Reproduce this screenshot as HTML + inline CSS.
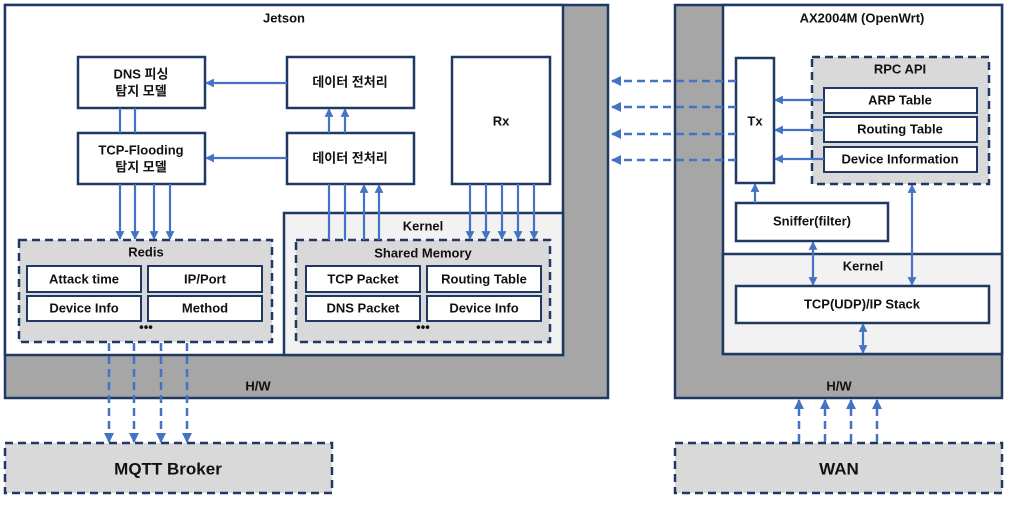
<!DOCTYPE html>
<html><head><meta charset="utf-8"><style>
html,body{margin:0;padding:0;background:#fff;width:1010px;height:505px;overflow:hidden}
text{font-family:"Liberation Sans","Noto Sans CJK KR",sans-serif;font-weight:bold;fill:#111;text-anchor:middle;dominant-baseline:middle}
</style></head><body>
<svg width="1010" height="505" viewBox="0 0 1010 505" xmlns="http://www.w3.org/2000/svg">
<defs>
<marker id="a" viewBox="0 0 10 10" refX="9" refY="5" markerWidth="4" markerHeight="4" orient="auto-start-reverse"><path d="M0,0L10,5L0,10z" fill="#4472c4"/></marker>
</defs>
<g stroke="#1f3864" stroke-width="2.5">
<!-- Jetson -->
<rect x="5" y="5" width="603" height="393" fill="#a6a6a6"/>
<rect x="5" y="5" width="558" height="350" fill="#fff"/>
<rect x="284" y="213" width="279" height="142" fill="#f2f2f2"/>
<!-- AX -->
<rect x="675" y="5" width="327" height="393" fill="#a6a6a6"/>
<rect x="723" y="5" width="279" height="349" fill="#fff"/>
<rect x="723" y="254" width="279" height="100" fill="#f2f2f2"/>
</g>
<g stroke="#1f3864" stroke-width="2.5" fill="#fff">
<rect x="78" y="57" width="127" height="51"/>
<rect x="78" y="133" width="127" height="51"/>
<rect x="287" y="57" width="127" height="51"/>
<rect x="287" y="133" width="127" height="51"/>
<rect x="452" y="57" width="98" height="127"/>
<rect x="736" y="58" width="38" height="125"/>
<rect x="736" y="203" width="152" height="38"/>
<rect x="736" y="286" width="253" height="37"/>
</g>
<g stroke="#1f3864" stroke-width="2.5" stroke-dasharray="8,5" fill="#d9d9d9">
<rect x="19" y="240" width="253" height="102"/>
<rect x="296" y="240" width="254" height="102"/>
<rect x="812" y="57" width="177" height="127"/>
<rect x="5" y="443" width="327" height="50"/>
<rect x="675" y="443" width="327" height="50"/>
</g>
<g stroke="#1f3864" stroke-width="2" fill="#fff">
<rect x="27" y="266" width="114" height="26"/>
<rect x="148" y="266" width="114" height="26"/>
<rect x="27" y="296" width="114" height="25"/>
<rect x="148" y="296" width="114" height="25"/>
<rect x="306" y="266" width="114" height="26"/>
<rect x="427" y="266" width="114" height="26"/>
<rect x="306" y="296" width="114" height="25"/>
<rect x="427" y="296" width="114" height="25"/>
<rect x="824" y="88" width="153" height="25"/>
<rect x="824" y="117" width="153" height="25"/>
<rect x="824" y="147" width="153" height="25"/>
</g>
<g stroke="#4472c4" stroke-width="2.2" fill="none">
<line x1="120" y1="108" x2="120" y2="133"/><line x1="135" y1="108" x2="135" y2="133"/>
<line x1="120" y1="184" x2="120" y2="239" marker-end="url(#a)"/>
<line x1="135" y1="184" x2="135" y2="239" marker-end="url(#a)"/>
<line x1="154" y1="184" x2="154" y2="239" marker-end="url(#a)"/>
<line x1="170" y1="184" x2="170" y2="239" marker-end="url(#a)"/>
<line x1="287" y1="83" x2="206" y2="83" marker-end="url(#a)"/>
<line x1="287" y1="158" x2="206" y2="158" marker-end="url(#a)"/>
<line x1="329" y1="133" x2="329" y2="109" marker-end="url(#a)"/>
<line x1="345" y1="133" x2="345" y2="109" marker-end="url(#a)"/>
<line x1="329" y1="240" x2="329" y2="184"/><line x1="345" y1="240" x2="345" y2="184"/>
<line x1="364" y1="240" x2="364" y2="185" marker-end="url(#a)"/>
<line x1="379" y1="240" x2="379" y2="185" marker-end="url(#a)"/>
<line x1="470" y1="184" x2="470" y2="239" marker-end="url(#a)"/>
<line x1="486" y1="184" x2="486" y2="239" marker-end="url(#a)"/>
<line x1="502" y1="184" x2="502" y2="239" marker-end="url(#a)"/>
<line x1="518" y1="184" x2="518" y2="239" marker-end="url(#a)"/>
<line x1="534" y1="184" x2="534" y2="239" marker-end="url(#a)"/>
<line x1="824" y1="100" x2="775" y2="100" marker-end="url(#a)"/>
<line x1="824" y1="130" x2="775" y2="130" marker-end="url(#a)"/>
<line x1="824" y1="159" x2="775" y2="159" marker-end="url(#a)"/>
<line x1="755" y1="203" x2="755" y2="184" marker-end="url(#a)"/>
<line x1="813" y1="242" x2="813" y2="285" marker-start="url(#a)" marker-end="url(#a)"/>
<line x1="912" y1="185" x2="912" y2="285" marker-start="url(#a)" marker-end="url(#a)"/>
<line x1="863" y1="324" x2="863" y2="353" marker-start="url(#a)" marker-end="url(#a)"/>
</g>
<g stroke="#4472c4" stroke-width="2.5" fill="none" stroke-dasharray="8,5">
<line x1="109" y1="343" x2="109" y2="442" marker-end="url(#a)"/>
<line x1="134" y1="343" x2="134" y2="442" marker-end="url(#a)"/>
<line x1="161" y1="343" x2="161" y2="442" marker-end="url(#a)"/>
<line x1="187" y1="343" x2="187" y2="442" marker-end="url(#a)"/>
<line x1="736" y1="81" x2="612" y2="81" marker-end="url(#a)"/>
<line x1="736" y1="107" x2="612" y2="107" marker-end="url(#a)"/>
<line x1="736" y1="134" x2="612" y2="134" marker-end="url(#a)"/>
<line x1="736" y1="160" x2="612" y2="160" marker-end="url(#a)"/>
<line x1="799" y1="442" x2="799" y2="400" marker-end="url(#a)"/>
<line x1="825" y1="442" x2="825" y2="400" marker-end="url(#a)"/>
<line x1="851" y1="442" x2="851" y2="400" marker-end="url(#a)"/>
<line x1="877" y1="442" x2="877" y2="400" marker-end="url(#a)"/>
</g>
<g font-size="13">
<text x="284" y="19">Jetson</text>
<text x="862" y="19">AX2004M (OpenWrt)</text>
<text x="141" y="75">DNS 피싱</text><text x="141" y="92">탐지 모델</text>
<text x="141" y="151">TCP-Flooding</text><text x="141" y="168">탐지 모델</text>
<text x="350" y="83">데이터 전처리</text>
<text x="350" y="159">데이터 전처리</text>
<text x="501" y="122">Rx</text>
<text x="755" y="122">Tx</text>
<text x="423" y="227">Kernel</text>
<text x="146" y="253">Redis</text>
<text x="423" y="254">Shared Memory</text>
<text x="84" y="280">Attack time</text><text x="205" y="280">IP/Port</text>
<text x="84" y="309">Device Info</text><text x="205" y="309">Method</text>
<text x="363" y="280">TCP Packet</text><text x="484" y="280">Routing Table</text>
<text x="363" y="309">DNS Packet</text><text x="484" y="309">Device Info</text>
<text x="146" y="328">•••</text><text x="423" y="328">•••</text>
<text x="900" y="70">RPC API</text>
<text x="900" y="101">ARP Table</text>
<text x="900" y="130">Routing Table</text>
<text x="900" y="160">Device Information</text>
<text x="812" y="222">Sniffer(filter)</text>
<text x="863" y="267">Kernel</text>
<text x="862" y="305">TCP(UDP)/IP Stack</text>
<text x="258" y="387">H/W</text>
<text x="839" y="387">H/W</text>
<text x="168" y="470" font-size="17">MQTT Broker</text>
<text x="839" y="470" font-size="17">WAN</text>
</g>
</svg>
</body></html>
